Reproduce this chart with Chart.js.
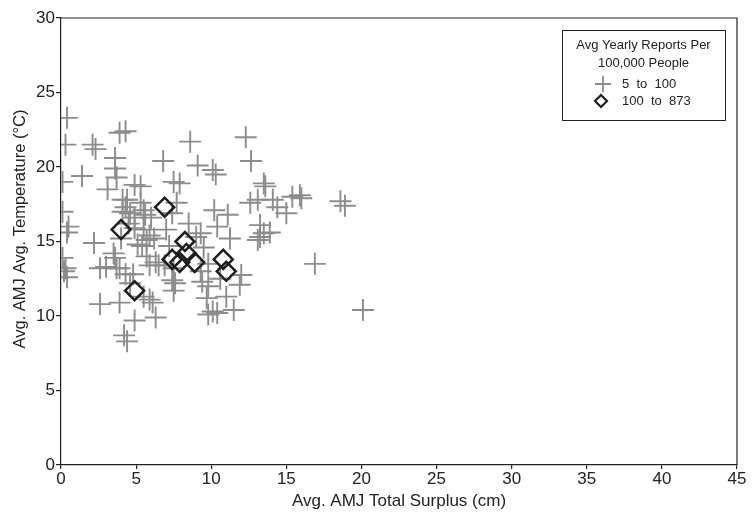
<!DOCTYPE html>
<html>
<head>
<meta charset="utf-8">
<script src="https://cdn.jsdelivr.net/npm/chart.js@4.4.0/dist/chart.umd.min.js"></script>
<style>
  html, body { margin: 0; padding: 0; background: #fff; }
  #wrap { width: 752px; height: 512px; }
</style>
</head>
<body>
<div id="wrap"><canvas id="chart" width="752" height="512"></canvas></div>
<script>
// Data
const lowX = [0.4, 0.3, 0.1, 0.1, 0.5, 0.4, 0.1, 0.3, 0.4, 0.2,
  1.4, 2.1, 2.3, 2.2, 2.6, 2.6, 3.1, 3.5, 3.0,
  3.9, 4.3, 3.6, 3.6, 3.7, 4.1, 4.4, 4.3, 4.1, 4.6, 4.9, 4.5, 3.9, 4.2, 4.4, 3.7, 3.9, 3.6, 4.3, 4.8, 4.6, 4.0,
  4.9, 5.3, 5.5, 5.6, 5.3, 4.9, 5.5, 5.9, 5.1, 5.4, 5.7, 5.7, 5.9, 6.3, 5.9, 5.5, 6.1, 4.9, 6.3, 6.0, 6.2,
  6.8, 7.5, 7.9, 7.7, 7.6, 7.0, 7.2, 6.9, 6.5, 7.5, 7.4, 7.5, 7.4,
  8.6, 9.1, 9.0, 9.3, 9.4, 9.8, 9.7, 9.8, 9.8, 9.3, 8.5, 9.5,
  10.1, 10.3, 10.2, 11.1, 10.4, 11.25, 11.0, 10.1, 10.4, 11.5, 10.6,
  12.3, 12.65, 12.0, 11.9, 12.6, 13.1, 13.5, 13.6, 13.25, 13.5, 13.1, 13.9, 14.1, 13.25,
  14.4, 15.0, 15.4, 15.9, 16.0,
  16.9, 18.6, 18.9, 20.1];
const lowY = [23.3, 21.5, 19.0, 17.0, 16.0, 15.6, 13.9, 13.2, 12.6, 13.0,
  19.4, 21.5, 21.2, 14.9, 13.2, 10.8, 18.5, 14.2, 13.3,
  22.3, 22.4, 20.6, 19.9, 19.3, 17.8, 17.8, 17.3, 17.0, 16.9, 16.6, 16.2, 10.9, 8.7, 8.3, 13.2, 13.2, 13.9, 12.8, 12.8, 12.2, 15.2,
  18.8, 18.7, 17.1, 16.8, 17.6, 15.9, 15.8, 15.4, 14.8, 14.7, 15.1, 14.0, 13.4, 13.6, 11.1, 11.3, 10.9, 9.7, 9.9, 16.6, 15.2,
  20.4, 19.0, 18.9, 17.6, 12.2, 15.8, 14.7, 13.4, 13.4, 13.2, 12.4, 11.7, 16.9,
  21.7, 20.1, 15.3, 15.55, 12.3, 12.0, 11.2, 10.1, 13.5, 13.0, 16.2, 14.6,
  19.8, 19.5, 17.1, 16.8, 16.0, 15.2, 11.3, 10.3, 10.2, 10.4, 12.5,
  22.0, 20.4, 12.75, 12.1, 17.6, 17.8, 18.9, 18.7, 15.3, 15.55, 15.1, 15.6, 17.8, 16.1,
  17.3, 16.9, 18.0, 18.1, 17.9,
  13.5, 17.7, 17.4, 10.4];

const highX = [4.0, 6.9, 4.9, 7.4, 7.9, 8.25, 8.35, 8.9, 10.8, 11.0];
const highY = [15.8, 17.3, 11.7, 13.8, 13.6, 15.0, 14.2, 13.6, 13.8, 13.0];

const seriesNames = ['5  to  100', '100  to  873'];
const legendTitle = ['Avg Yearly Reports Per', '100,000 People'];
const xTitle = 'Avg. AMJ Total Surplus (cm)';
const yTitle = 'Avg. AMJ Avg. Temperature (\u00B0C)';

const crossColor = '#8c8c8c';
const diamondColor = '#1e1e1e';
const axisColor = '#222';
const font = '"Liberation Sans", Arial, sans-serif';

function toPoints(xs, ys) {
  return xs.map((x, i) => ({ x: x, y: ys[i] }));
}

// box around the plot, y title, and the legend
const framePlugin = {
  id: 'frame',
  afterDraw(chart) {
    const ctx = chart.ctx;
    const a = chart.chartArea;
    ctx.save();
    ctx.strokeStyle = axisColor;
    ctx.lineWidth = 1.2;
    ctx.beginPath();
    ctx.moveTo(a.left, a.top);
    ctx.lineTo(a.right, a.top);
    ctx.lineTo(a.right, a.bottom);
    ctx.stroke();

    // y axis title
    ctx.save();
    ctx.translate(20, 229);
    ctx.rotate(-Math.PI / 2);
    ctx.fillStyle = axisColor;
    ctx.font = '16.5px ' + font;
    ctx.textAlign = 'center';
    ctx.textBaseline = 'middle';
    ctx.fillText(yTitle, 0, 0);
    ctx.restore();

    // legend
    const bx = 562, by = 30, bw = 163, bh = 90;
    ctx.lineWidth = 1;
    ctx.strokeStyle = '#222';
    ctx.fillStyle = '#fff';
    ctx.fillRect(bx, by, bw, bh);
    ctx.strokeRect(bx + 0.5, by + 0.5, bw, bh);
    ctx.fillStyle = '#222';
    ctx.font = '13px ' + font;
    ctx.textAlign = 'center';
    ctx.textBaseline = 'middle';
    ctx.fillText(legendTitle[0], bx + bw / 2, 45);
    ctx.fillText(legendTitle[1], bx + bw / 2, 63);
    ctx.textAlign = 'left';
    ctx.fillText(seriesNames[0], 622, 84);
    ctx.fillText(seriesNames[1], 622, 101);
    ctx.strokeStyle = crossColor;
    ctx.lineWidth = 1.8;
    ctx.beginPath();
    ctx.moveTo(595, 84); ctx.lineTo(611, 84);
    ctx.moveTo(603, 76); ctx.lineTo(603, 92);
    ctx.stroke();
    ctx.strokeStyle = diamondColor;
    ctx.lineWidth = 2.2;
    ctx.beginPath();
    ctx.moveTo(595, 101); ctx.lineTo(601, 95); ctx.lineTo(607, 101); ctx.lineTo(601, 107); ctx.closePath();
    ctx.stroke();
    ctx.restore();
  }
};

new Chart(document.getElementById('chart'), {
  type: 'scatter',
  data: {
    datasets: [
      {
        label: seriesNames[1],
        data: toPoints(highX, highY),
        pointStyle: 'rectRot',
        pointRadius: 9.5,
        pointHoverRadius: 9.5,
        borderColor: diamondColor,
        backgroundColor: 'rgba(0,0,0,0)',
        borderWidth: 2.5,
        order: 0
      },
      {
        label: seriesNames[0],
        data: toPoints(lowX, lowY),
        pointStyle: 'cross',
        pointRadius: 11,
        pointHoverRadius: 11,
        borderColor: crossColor,
        backgroundColor: crossColor,
        borderWidth: 1.9,
        order: 1
      }
    ]
  },
  options: {
    responsive: false,
    animation: false,
    layout: { padding: { left: 0, top: 18, right: 15, bottom: 0 } },
    plugins: {
      legend: { display: false },
      tooltip: { enabled: false }
    },
    scales: {
      x: {
        type: 'linear',
        min: 0,
        max: 45,
        afterFit(scale) { scale.height = 47; },
        ticks: { stepSize: 5, color: axisColor, font: { family: font, size: 17 }, padding: 0, maxRotation: 0 },
        grid: { drawOnChartArea: false, drawTicks: true, tickLength: 4, color: axisColor, lineWidth: 1.2 },
        border: { color: axisColor, width: 1.2 },
        title: { display: true, text: xTitle, color: axisColor, font: { family: font, size: 17 }, padding: { top: 0, bottom: 0 } }
      },
      y: {
        type: 'linear',
        min: 0,
        max: 30,
        afterFit(scale) { scale.width = 61; },
        ticks: { stepSize: 5, color: axisColor, font: { family: font, size: 17 }, padding: 1 },
        grid: { drawOnChartArea: false, drawTicks: true, tickLength: 5, color: axisColor, lineWidth: 1.2 },
        border: { color: axisColor, width: 1.2 },
        title: { display: false, text: yTitle }
      }
    }
  },
  plugins: [framePlugin]
});
</script>
</body>
</html>
